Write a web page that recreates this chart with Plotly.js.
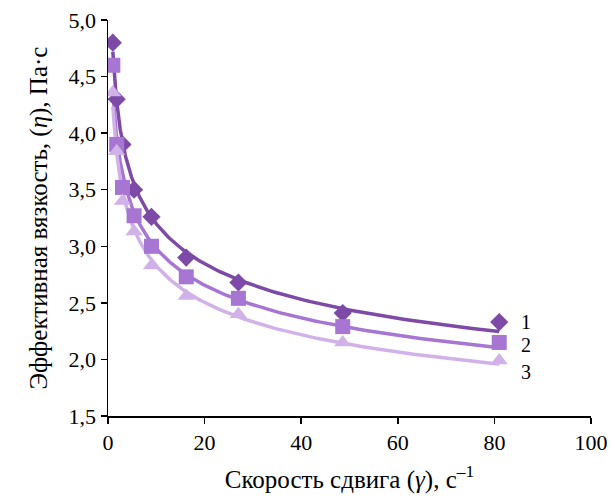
<!DOCTYPE html>
<html><head><meta charset="utf-8">
<script src="https://cdn.plot.ly/plotly-3.0.1.min.js"></script>
<style>body{margin:0;background:#fff}#c{width:610px;height:497px}</style>
</head><body><div id="c"></div>
<script>
const shearRate = [1, 1.8, 3, 5.4, 9, 16.2, 27, 48.6, 81];
const visc1 = [4.80, 4.30, 3.90, 3.50, 3.26, 2.90, 2.68, 2.41, 2.33];
const visc2 = [4.60, 3.90, 3.52, 3.27, 3.00, 2.73, 2.54, 2.29, 2.15];
const visc3 = [4.36, 3.84, 3.40, 3.13, 2.83, 2.56, 2.40, 2.15, 1.99];
const seriesLabels = ['1', '2', '3'];
const xTicks = [0, 20, 40, 60, 80, 100];
const yTicks = [1.5, 2.0, 2.5, 3.0, 3.5, 4.0, 4.5, 5.0];

const colors = ['#7d4aa7', '#a676d2', '#d1b2e8'];
const symbols = ['diamond', 'square', 'triangle-up'];
const sizes = [14, 15, 15];

// power-law trendline (least squares in log-log space), like the spreadsheet trendline
function powerFit(xs, ys) {
  const lx = xs.map(Math.log), ly = ys.map(Math.log);
  const n = xs.length;
  const mx = lx.reduce((a, b) => a + b) / n, my = ly.reduce((a, b) => a + b) / n;
  let sxy = 0, sxx = 0;
  for (let i = 0; i < n; i++) { sxy += (lx[i] - mx) * (ly[i] - my); sxx += (lx[i] - mx) ** 2; }
  const b = sxy / sxx, a = Math.exp(my - b * mx);
  const fx = [], fy = [];
  const x0 = xs[0], x1 = xs[n - 1];
  for (let k = 0; k <= 200; k++) {
    const x = x0 * Math.pow(x1 / x0, k / 200);
    fx.push(x); fy.push(a * Math.pow(x, b));
  }
  return { fx, fy };
}

const all = [visc1, visc2, visc3];
const traces = [];
all.forEach((ys, i) => {
  const f = powerFit(shearRate, ys);
  traces.push({ x: f.fx, y: f.fy, mode: 'lines', line: { color: colors[i], width: 3.5 }, hoverinfo: 'skip', showlegend: false });
});
all.forEach((ys, i) => {
  traces.push({ x: shearRate, y: ys, mode: 'markers', marker: { color: colors[i], symbol: symbols[i], size: sizes[i] }, showlegend: false });
});

const fam = 'Liberation Serif, Times New Roman, serif';
const font = { family: fam, size: 22, color: '#000' };
const titleFont = { family: fam, size: 25, color: '#000' };
const labelY = [2.33, 2.13, 1.89];
const annotations = seriesLabels.map((t, i) => ({
  x: 85, y: labelY[i], xref: 'x', yref: 'y', text: t, showarrow: false, xanchor: 'left', font: { family: fam, size: 20, color: '#000' }
}));

Plotly.newPlot('c', traces, {
  width: 610, height: 497,
  margin: { l: 108, r: 19, t: 20, b: 81 },
  paper_bgcolor: '#fff', plot_bgcolor: '#fff',
  font: font,
  xaxis: {
    range: [0, 100], tickmode: 'array', tickvals: xTicks, ticktext: xTicks.map(String),
    ticklabeloverflow: 'allow',
    showgrid: false, zeroline: false,
    showline: true, linecolor: '#000', linewidth: 1.5,
    ticks: 'outside', ticklen: 6, tickwidth: 1.5, tickcolor: '#000',
    tickfont: font,
    title: { text: 'Скорость сдвига (<i>γ</i>), с<sup>–1</sup>', font: titleFont, standoff: 16 }
  },
  yaxis: {
    range: [1.5, 5], tickmode: 'array', tickvals: yTicks, ticktext: yTicks.map(v => v.toFixed(1).replace('.', ',')),
    showgrid: false, zeroline: false,
    showline: true, linecolor: '#000', linewidth: 1.5,
    ticks: 'outside', ticklen: 6, tickwidth: 1.5, tickcolor: '#000',
    tickfont: font,
    title: { text: 'Эффективная вязкость, (<i>η</i>), Па·с', font: titleFont, standoff: 14 }
  },
  annotations: annotations
}, { staticPlot: true });
</script>
</body></html>
